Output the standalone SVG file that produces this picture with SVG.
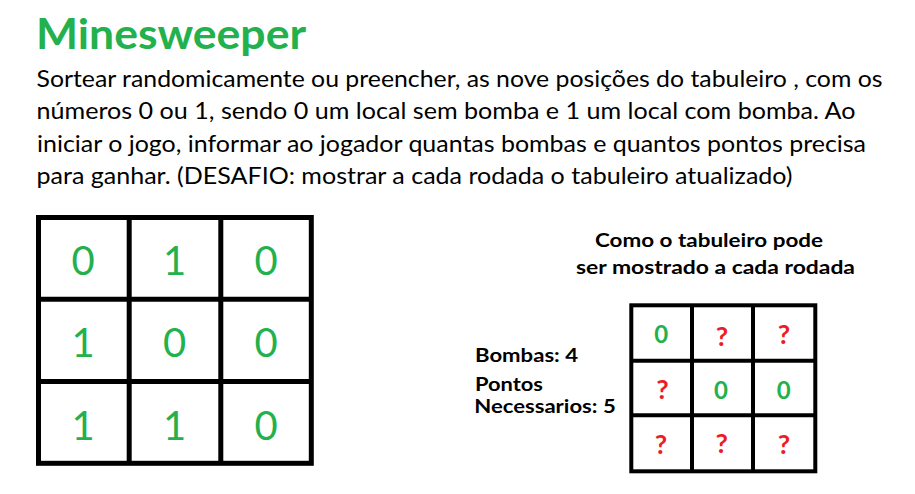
<svg xmlns="http://www.w3.org/2000/svg" width="915" height="494" viewBox="0 0 915 494">
<style>
.title{font-family:Lato,"Open Sans","Liberation Sans",sans-serif;font-weight:bold;font-size:42px;fill:#22B14C}
.body{font-family:Lato,"Open Sans","Liberation Sans",sans-serif;font-size:22.5px;fill:#000}
.bold{font-family:Lato,"Open Sans","Liberation Sans",sans-serif;font-weight:bold;font-size:18.5px;fill:#000}
.big{font-family:Lato,"Open Sans","Liberation Sans",sans-serif;font-size:40px;fill:#22B14C;text-anchor:middle}
.g0{font-family:Lato,"Open Sans","Liberation Sans",sans-serif;font-weight:bold;font-size:24px;fill:#22B14C;text-anchor:middle}
.q{font-family:Lato,"Open Sans","Liberation Sans",sans-serif;font-weight:bold;font-size:27px;fill:#ED1C24;text-anchor:middle}
.grid1{fill:none;stroke:#000;stroke-width:5}
.grid2{fill:none;stroke:#000;stroke-width:4}
</style>
<rect width="915" height="494" fill="#fff"/>
<g id="title">
<text class="title" x="36" y="48.5" textLength="270" lengthAdjust="spacingAndGlyphs">Minesweeper</text>
</g>
<g id="description">
<text class="body" x="36.5" y="87.3" textLength="846" lengthAdjust="spacingAndGlyphs">Sortear randomicamente ou preencher, as nove posições do tabuleiro , com os</text>
<text class="body" x="36.5" y="119.3" textLength="819" lengthAdjust="spacingAndGlyphs">números 0 ou 1, sendo 0 um local sem bomba e 1 um local com bomba.  Ao</text>
<text class="body" x="37" y="151.5" textLength="829" lengthAdjust="spacingAndGlyphs">iniciar o jogo, informar ao jogador quantas bombas e quantos pontos precisa</text>
<text class="body" x="36.5" y="183.5" textLength="756" lengthAdjust="spacingAndGlyphs">para ganhar. (DESAFIO: mostrar a cada rodada o tabuleiro atualizado)</text>
</g>
<g id="board-full">
<rect class="grid1" x="38.5" y="217.5" width="272.8" height="245.8"/>
<line class="grid1" x1="129.2" y1="217.5" x2="129.2" y2="463.3"/>
<line class="grid1" x1="220.8" y1="217.5" x2="220.8" y2="463.3"/>
<line class="grid1" x1="38.5" y1="299.2" x2="311.3" y2="299.2"/>
<line class="grid1" x1="38.5" y1="381.5" x2="311.3" y2="381.5"/>
<text class="big" x="83" y="275">0</text>
<text class="big" x="174.5" y="275">1</text>
<text class="big" x="266.2" y="275">0</text>
<text class="big" x="83" y="356.7">1</text>
<text class="big" x="174.5" y="356.7">0</text>
<text class="big" x="266.2" y="356.7">0</text>
<text class="big" x="83" y="440">1</text>
<text class="big" x="174.5" y="440">1</text>
<text class="big" x="266.2" y="440">0</text>
</g>
<g id="caption">
<text class="bold" x="595" y="246.7" textLength="228" lengthAdjust="spacingAndGlyphs">Como o tabuleiro pode</text>
<text class="bold" x="576" y="274.3" textLength="279" lengthAdjust="spacingAndGlyphs">ser mostrado a cada rodada</text>
</g>
<g id="status">
<text class="bold" x="475" y="361.7" textLength="103" lengthAdjust="spacingAndGlyphs">Bombas: 4</text>
<text class="bold" x="475" y="390.7" textLength="68" lengthAdjust="spacingAndGlyphs">Pontos</text>
<text class="bold" x="474.3" y="413.3" textLength="141.4" lengthAdjust="spacingAndGlyphs">Necessarios: 5</text>
</g>
<g id="board-round">
<rect class="grid2" x="631.3" y="305.3" width="184" height="166"/>
<line class="grid2" x1="692" y1="305.3" x2="692" y2="471.3"/>
<line class="grid2" x1="753" y1="305.3" x2="753" y2="471.3"/>
<line class="grid2" x1="631.3" y1="360.7" x2="815.3" y2="360.7"/>
<line class="grid2" x1="631.3" y1="415.3" x2="815.3" y2="415.3"/>
<text class="g0" x="661.3" y="343.3">0</text>
<text class="q" x="722" y="346">?</text>
<text class="q" x="784" y="344.3">?</text>
<text class="q" x="662.5" y="399">?</text>
<text class="g0" x="721" y="399">0</text>
<text class="g0" x="783.7" y="399">0</text>
<text class="q" x="661" y="454">?</text>
<text class="q" x="721.7" y="453.3">?</text>
<text class="q" x="784" y="454">?</text>
</g>
</svg>
